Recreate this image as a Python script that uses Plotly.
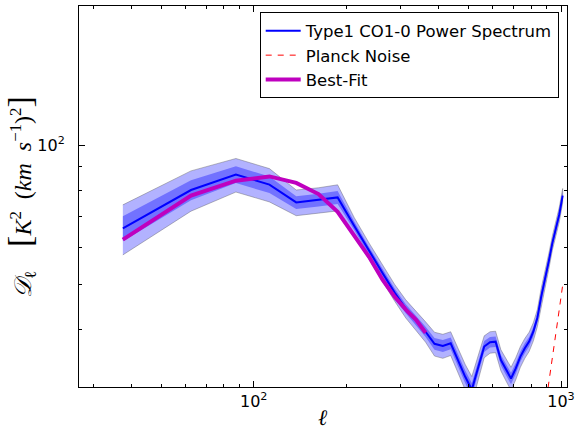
import math
import plotly.graph_objects as go

# multipole bins
ell = [37.5, 62.5, 87.5, 112.5, 137.5, 162.5, 187.5, 212.5, 237.5, 262.5,
       287.5, 312.5, 337.5, 362.5, 387.5, 412.5, 437.5, 462.5, 487.5, 512.5,
       537.5, 562.5, 587.5, 612.5, 637.5, 662.5, 687.5, 712.5, 737.5, 762.5,
       787.5, 812.5, 837.5, 862.5, 887.5, 912.5, 937.5, 962.5, 987.5, 1012.5]

# Type1 CO1-0 power spectrum D_ell
power = [66.1, 80.0, 86.4, 82.2, 75.2, 76.1, 77.1, 66.9, 59.0, 52.9,
         48.0, 44.3, 41.8, 39.5, 37.2, 36.8, 37.3, 34.2, 31.6, 29.6,
         33.2, 36.7, 37.5, 37.6, 34.3, 32.7, 31.3, 32.9, 34.9, 36.4,
         37.6, 39.5, 42.3, 47.1, 51.2, 56.1, 61.5, 66.3, 70.9, 77.8]

# 1-sigma uncertainty
sigma = [4.1, 4.0, 3.6, 3.4, 2.4, 2.4, 2.5, 1.4, 1.2, 1.1,
         1.0, 1.0, 1.0, 1.0, 1.1, 1.1, 1.1, 1.0, 1.0, 1.0,
         1.0, 1.0, 1.0, 1.0, 0.9, 0.9, 0.9, 0.9, 0.9, 0.9,
         0.9, 0.9, 0.9, 1.0, 1.0, 1.1, 1.1, 1.2, 1.3, 1.4]

# Best-fit model
fit_ell = [37.5, 62.5, 87.5, 112.5, 137.5, 162.5, 187.5, 212.5, 237.5, 262.5,
           287.5, 312.5, 337.5, 362.5]
fit = [62.5, 77.8, 83.8, 85.6, 82.9, 78.4, 71.8, 63.6, 57.3, 51.2,
       47.0, 44.1, 41.9, 39.3]

# Planck noise
noise_ell = [862.5, 887.5, 912.5, 937.5, 962.5, 987.5, 1012.5]
noise = [23.6, 26.8, 30.5, 34.6, 39.2, 44.2, 49.8]

x_major = [100, 1000]
x_major_text = ["10<sup>2</sup>", "10<sup>3</sup>"]
x_minor = [30, 40, 50, 60, 70, 80, 90, 200, 300, 400, 500, 600, 700, 800, 900]
y_major = [100]
y_major_text = ["10<sup>2</sup>"]
y_minor = [40, 50, 60, 70, 80, 90]

fig = go.Figure()

def band(k):
    up = [p + k * s for p, s in zip(power, sigma)]
    lo = [p - k * s for p, s in zip(power, sigma)]
    return ell + ell[::-1], up + lo[::-1]

bx, by = band(2)
fig.add_trace(go.Scatter(x=bx, y=by, fill="toself", mode="lines",
                         fillcolor="rgba(0,0,255,0.3)",
                         line=dict(color="rgba(90,90,90,0.5)", width=0.8),
                         showlegend=False, hoverinfo="skip"))
bx, by = band(1)
fig.add_trace(go.Scatter(x=bx, y=by, fill="toself", mode="lines",
                         fillcolor="rgba(0,0,255,0.36)",
                         line=dict(width=0),
                         showlegend=False, hoverinfo="skip"))

fig.add_trace(go.Scatter(x=ell, y=power, mode="lines",
                         line=dict(color="#0000ff", width=2),
                         name="Type1 CO1-0 Power Spectrum"))
fig.add_trace(go.Scatter(x=noise_ell, y=noise, mode="lines",
                         line=dict(color="#ff0000", width=1, dash="6px,6px"),
                         name="Planck Noise"))
fig.add_trace(go.Scatter(x=fit_ell, y=fit, mode="lines",
                         line=dict(color="#bf00bf", width=4),
                         name="Best-Fit"))

axis_common = dict(showline=True, linecolor="black", linewidth=1,
                   mirror="allticks", ticks="inside", ticklen=6,
                   tickcolor="black", showgrid=False, zeroline=False,
                   tickfont=dict(family="DejaVu Sans", size=16, color="black"))

fig.update_xaxes(type="log", range=[math.log10(27), math.log10(1046)],
                 tickmode="array", tickvals=x_major, ticktext=x_major_text,
                 minor=dict(ticks="inside", ticklen=3, tickcolor="black",
                            tickvals=x_minor, showgrid=False),
                 **axis_common)
fig.update_yaxes(type="log", range=[math.log10(30), math.log10(200)],
                 tickmode="array", tickvals=y_major, ticktext=y_major_text,
                 minor=dict(ticks="inside", ticklen=3, tickcolor="black",
                            tickvals=y_minor, showgrid=False),
                 ticklabelstandoff=10,
                 **axis_common)

ylabel = ("<i>𝒟</i><sub>ℓ</sub>    "
          "<span style='font-size:34px'>[</span>"
          "<i>K</i><sup>2</sup>  (<i>km  s</i><sup>−1</sup>)<sup>2</sup>"
          "<span style='font-size:34px'>]</span>")

fig.update_layout(
    width=580, height=432,
    margin=dict(l=79, r=8, t=5, b=45),
    plot_bgcolor="white", paper_bgcolor="white",
    font=dict(family="DejaVu Sans", size=16, color="black"),
    legend=dict(x=0.983, xanchor="right", y=0.983, yanchor="top",
                bgcolor="white", bordercolor="black", borderwidth=1,
                itemwidth=35,
                font=dict(family="DejaVu Sans", size=16.5, color="black"),
                tracegroupgap=0),
    annotations=[
        dict(text=ylabel,
             xref="paper", yref="paper", x=-0.12, y=0.5,
             xanchor="center", yanchor="middle", textangle=-90,
             showarrow=False,
             font=dict(family="Liberation Serif", size=24, color="black")),
        dict(text="<i>ℓ</i>", xref="paper", yref="paper", x=0.5, y=-0.08,
             xanchor="center", yanchor="middle", showarrow=False,
             font=dict(family="Liberation Serif", size=22, color="black")),
    ],
)

fig.write_html("out.html")
